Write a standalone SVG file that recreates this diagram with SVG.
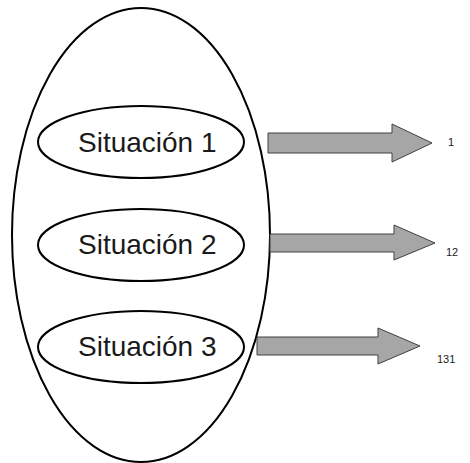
<svg xmlns="http://www.w3.org/2000/svg" width="470" height="463" viewBox="0 0 470 463">
<style>
.outer{fill:none;stroke:#000;stroke-width:2}
.inner{fill:#fff;stroke:#000;stroke-width:2}
.lbl{font-family:"Liberation Sans",Arial,sans-serif;font-size:28px;fill:#1a1a1a}
.num{font-family:"Liberation Sans",Arial,sans-serif;font-size:11px;fill:#1a1a1a}
.arrow{fill:#a6a6a6;stroke:#404040;stroke-width:1}
</style>
<rect width="470" height="463" fill="#fff"/>
<g id="container"><ellipse class="outer" cx="141" cy="235" rx="129" ry="227"/></g>
<g id="s1"><ellipse class="inner" cx="141" cy="142" rx="103" ry="36"/><text class="lbl" x="78" y="152">Situación 1</text></g>
<g id="s2"><ellipse class="inner" cx="141" cy="245" rx="103" ry="36"/><text class="lbl" x="78" y="254">Situación 2</text></g>
<g id="s3"><ellipse class="inner" cx="141" cy="347" rx="103" ry="36"/><text class="lbl" x="78" y="356">Situación 3</text></g>
<g id="connectors">
<path class="arrow" d="M268,133 H392 V124 L432,143 L392,162 V153 H268 Z"/>
<path class="arrow" d="M270,234 H394 V225 L435,243 L394,260 V252 H270 Z"/>
<path class="arrow" d="M257,337 H378 V328 L420,346 L378,364 V355 H257 Z"/>
</g>
<g id="n1"><text class="num" x="448" y="146">1</text></g>
<g id="n2"><text class="num" x="446" y="256">12</text></g>
<g id="n3"><text class="num" x="437" y="363">131</text></g>
</svg>
